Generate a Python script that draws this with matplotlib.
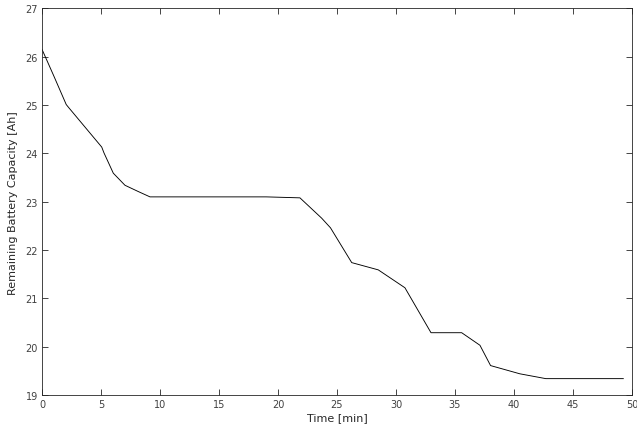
import numpy as np
import matplotlib.pyplot as plt

# remaining capacity over the drive cycle
time_min = [0.0, 1.0, 2.05, 2.25, 5.06, 5.25, 6.04, 7.03, 8.16, 9.15,
            19.0, 21.86, 23.7, 24.45, 26.25, 28.5, 30.76, 32.97,
            35.57, 37.12, 38.02, 40.5, 42.7, 49.27]
capacity_ah = [26.15, 25.6, 25.01, 24.95, 24.13, 24.01, 23.59, 23.34, 23.21, 23.10,
               23.10, 23.08, 22.66, 22.46, 21.74, 21.59, 21.22, 20.29,
               20.29, 20.03, 19.61, 19.44, 19.34, 19.34]

x_ticks = np.arange(0, 51, 5)
y_ticks = np.arange(19, 28, 1)

grey = '#262626'
plt.rcParams['font.family'] = 'DejaVu Sans'

fig = plt.figure(figsize=(6.37, 4.35), dpi=100)
ax = fig.add_axes([0.066, 0.0895, 0.926, 0.889])

ax.plot(time_min, capacity_ah, color='black', linewidth=0.65)

ax.set_xlim(0, 50)
ax.set_ylim(19, 27)
ax.set_xticks(x_ticks)
ax.set_yticks(y_ticks)

ax.tick_params(direction='in', length=4, width=0.6, top=True, right=True,
               labelsize=7, colors=grey, labelcolor='#404040', pad=3)
for sp in ax.spines.values():
    sp.set_linewidth(0.6)
    sp.set_color(grey)

ax.set_xlabel('Time [min]', fontsize=8, color=grey, labelpad=2)
ax.set_ylabel('Remaining Battery Capacity [Ah]', fontsize=8, color=grey, labelpad=5)

fig.savefig('out.png', dpi=100)
